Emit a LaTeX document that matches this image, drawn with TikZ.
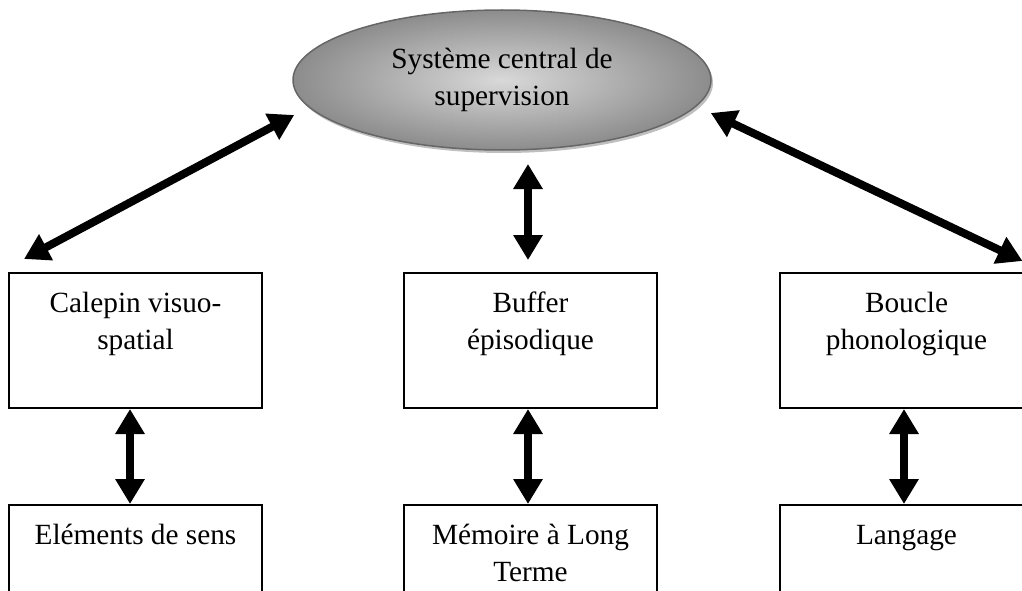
\documentclass[tikz,border=0pt]{standalone}
\usepackage{fontspec}
\setmainfont{Liberation Serif}
\usetikzlibrary{arrows.meta,shapes.geometric,shadows}
\tikzset{
  boxnode/.style={draw=black, line width=2pt, rectangle, inner sep=0pt, minimum width=253pt, minimum height=135pt},
  biarrow/.style={line width=8pt, {Triangle[width=28pt,length=25pt]}-{Triangle[width=28pt,length=25pt]}},
  ellnode/.style={ellipse, draw=black!60, line width=1.5pt, minimum width=418pt, minimum height=140pt, inner sep=0pt,
    inner color=black!15, outer color=black!45,
    drop shadow={shadow xshift=2pt, shadow yshift=-3pt, fill=black!25, opacity=1}},
}
\newcommand{\boxtext}[1]{\parbox[c][135pt][t]{253pt}{\centering\rule{0pt}{39pt}#1}}
\begin{document}
\begin{tikzpicture}[x=1pt,y=-1pt]
\fontsize{29.3}{37}\selectfont
\useasboundingbox (0,0) rectangle (1022,591);
\node[ellnode, align=center] (e) at (502,80) {Système central de\\supervision};
\node[boxnode] (cal) at (135.5,340.5) {\boxtext{Calepin visuo-\\spatial}};
\node[boxnode] (buf) at (530.5,340.5) {\boxtext{Buffer\\épisodique}};
\node[boxnode] (bou) at (906.5,340.5) {\boxtext{Boucle\\phonologique}};
\node[boxnode] (els) at (135.5,572.5) {\boxtext{Eléments de sens}};
\node[boxnode] (mem) at (530.5,572.5) {\boxtext{Mémoire à Long\\Terme}};
\node[boxnode] (lan) at (906.5,572.5) {\boxtext{Langage}};
\draw[biarrow] ([xshift=2pt,yshift=-35pt]e.west) -- ([xshift=16pt,yshift=13pt]cal.north west);
\draw[biarrow] ([xshift=-1pt,yshift=-33pt]e.east) -- ([xshift=-11.5pt,yshift=11pt]bou.north east);
\draw[biarrow] ([xshift=-2.5pt,yshift=108pt]buf.north) -- ([xshift=-2.5pt,yshift=12pt]buf.north);
\draw[biarrow] ([xshift=-5.5pt]cal.south) -- ([xshift=-5.5pt]els.north);
\draw[biarrow] ([xshift=-2.5pt]buf.south) -- ([xshift=-2.5pt]mem.north);
\draw[biarrow] ([xshift=-2.5pt]bou.south) -- ([xshift=-2.5pt]lan.north);
\end{tikzpicture}
\end{document}
